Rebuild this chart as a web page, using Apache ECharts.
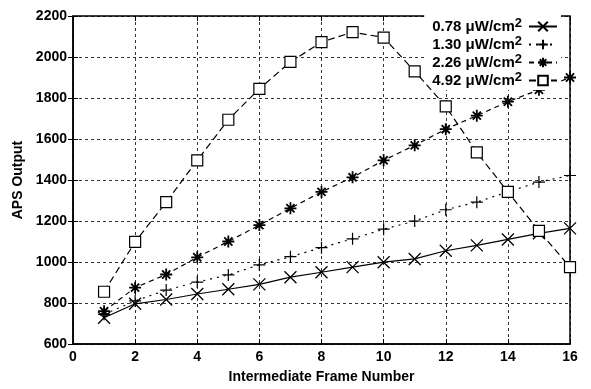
<!DOCTYPE html>
<html>
<head>
<meta charset="utf-8">
<script src="https://cdn.jsdelivr.net/npm/echarts@6/dist/echarts.min.js"></script>
<style>
html,body{margin:0;padding:0;background:#fff;}
#c{width:591px;height:389px;}
</style>
</head>
<body>
<div id="c"></div>
<script>
var frames = [1,2,3,4,5,6,7,8,9,10,11,12,13,14,15,16];
var seriesNames = ['0.78 μW/cm', '1.30 μW/cm', '2.26 μW/cm', '4.92 μW/cm'];
var s078 = [728, 796, 817, 844, 867, 891, 926, 950, 975, 999, 1015, 1055, 1081, 1110, 1140, 1164];
var s130 = [745, 810, 863, 902, 937, 986, 1026, 1070, 1113, 1160, 1200, 1255, 1292, 1342, 1390, 1422];
var s226 = [760, 875, 939, 1023, 1100, 1180, 1262, 1342, 1413, 1496, 1569, 1648, 1714, 1782, 1840, 1900];
var s492 = [855, 1098, 1292, 1496, 1694, 1845, 1976, 2073, 2121, 2095, 1930, 1759, 1535, 1342, 1152, 975];
var xTicks = [0,2,4,6,8,10,12,14,16];
var yTicks = [600,800,1000,1200,1400,1600,1800,2000,2200];

function pairs(v){ return frames.map(function(f,i){ return [f, v[i]]; }); }

var FONT = 'Liberation Sans';
var symCross = 'path://M0,0L10,10M10,0L0,10';
var symPlus = 'path://M5,0L5,10M0,5L10,5';
var symStar = 'path://M5,0L5,10M0,5L10,5M1.6,1.6L8.4,8.4M8.4,1.6L1.6,8.4';

var defs = [
  {data: s078, symbol: symCross, size: 12, dash: 'solid', fill: '#000', bw: 1.3},
  {data: s130, symbol: symPlus, size: 12, dash: [2,5], fill: '#000', bw: 1.2},
  {data: s226, symbol: symStar, size: 12, dash: [5,4], fill: '#000', bw: 1.8},
  {data: s492, symbol: 'rect', size: 11, dash: [7,4], fill: '#fff', bw: 1.2}
];

var series = defs.map(function(d, i){
  return {
    name: seriesNames[i],
    type: 'line',
    data: pairs(d.data),
    symbol: d.symbol,
    symbolSize: d.size,
    showAllSymbol: true,
    lineStyle: {color: '#000', width: 1.2, type: d.dash},
    itemStyle: {color: d.fill, borderColor: '#000', borderWidth: d.bw},
    emphasis: {disabled: true},
    z: 3 + (i === 3 ? 1 : 0)
  };
});

var axisLabelStyle = {color: '#000', fontFamily: FONT, fontWeight: 'bold', fontSize: 14};
var splitStyle = {show: true, lineStyle: {color: '#000', width: 0.8, type: [3,3]}};

var option = {
  animation: false,
  backgroundColor: '#fff',
  grid: {left: 73, right: 21, top: 16, bottom: 36, show: true, borderColor: '#000', borderWidth: 1.5, backgroundColor: 'transparent'},
  legend: {
    orient: 'vertical',
    right: 30,
    top: 15,
    align: 'right',
    itemWidth: 28,
    itemHeight: 12,
    itemGap: 1,
    backgroundColor: '#fff',
    padding: [2, 3, 2, 8],
    data: seriesNames,
    formatter: function(n){ return '{t|' + n + '}{s|2}'; },
    textStyle: {
      color: '#000', fontFamily: FONT, fontWeight: 'bold', fontSize: 15,
      padding: [0, 2, 0, 0],
      rich: {
        t: {color: '#000', fontFamily: FONT, fontWeight: 'bold', fontSize: 15},
        s: {color: '#000', fontFamily: FONT, fontWeight: 'bold', fontSize: 13, verticalAlign: 'bottom', padding: [0,0,6,0]}
      }
    }
  },
  xAxis: [{
    type: 'value', min: 0, max: 16, interval: 2,
    name: 'Intermediate Frame Number', nameLocation: 'middle', nameGap: 26,
    nameTextStyle: {color: '#000', fontFamily: FONT, fontWeight: 'bold', fontSize: 14},
    axisLine: {show: true, lineStyle: {color: '#000', width: 1.5}},
    axisTick: {show: true, inside: true, length: 5, lineStyle: {color: '#000'}},
    axisLabel: Object.assign({margin: 6, formatter: function(v){ return xTicks.indexOf(v) >= 0 ? String(v) : ''; }}, axisLabelStyle),
    splitLine: splitStyle
  }, {
    type: 'value', min: 0, max: 16, interval: 2, position: 'top',
    axisLine: {show: false},
    axisTick: {show: true, inside: true, length: 5, lineStyle: {color: '#000'}},
    axisLabel: {show: false}, splitLine: {show: false}
  }],
  yAxis: [{
    type: 'value', min: 600, max: 2200, interval: 200,
    name: 'APS Output', nameLocation: 'middle', nameGap: 44, nameRotate: 90,
    nameTextStyle: {color: '#000', fontFamily: FONT, fontWeight: 'bold', fontSize: 14},
    axisLine: {show: true, lineStyle: {color: '#000', width: 1.5}},
    axisTick: {show: true, inside: true, length: 5, lineStyle: {color: '#000'}},
    axisLabel: Object.assign({margin: 6, formatter: function(v){ return yTicks.indexOf(v) >= 0 ? String(v) : ''; }}, axisLabelStyle),
    splitLine: splitStyle
  }, {
    type: 'value', min: 600, max: 2200, interval: 200, position: 'right',
    axisLine: {show: false},
    axisTick: {show: true, inside: true, length: 5, lineStyle: {color: '#000'}},
    axisLabel: {show: false}, splitLine: {show: false}
  }],
  series: series
};

var chart = echarts.init(document.getElementById('c'), null, {renderer: 'canvas'});
chart.setOption(option);
</script>
</body>
</html>
